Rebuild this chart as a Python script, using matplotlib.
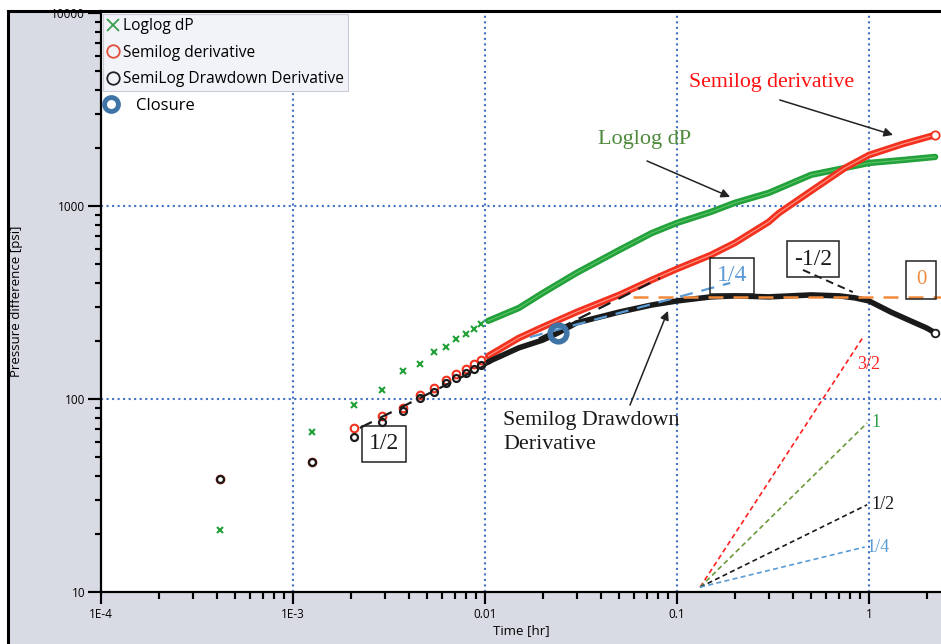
import matplotlib
matplotlib.use('Agg')
import matplotlib.pyplot as plt
import matplotlib.ticker as mticker
from matplotlib.lines import Line2D
from matplotlib.patches import Rectangle

# ---------------- data ----------------
loglog_t = [4.17e-4, 1.25e-3, 2.08e-3, 2.92e-3, 3.75e-3, 4.58e-3, 5.42e-3, 6.25e-3,
            7.08e-3, 7.92e-3, 8.75e-3, 9.58e-3, 0.0104, 0.015, 0.02, 0.03, 0.05,
            0.074, 0.1, 0.15, 0.2, 0.3, 0.5, 0.75, 1.0, 1.5, 2.21]
loglog_dp = [20.9, 67.5, 93, 111, 140, 152, 175, 186, 205, 217, 231, 245, 254,
             296, 354, 450, 591, 724, 817, 931, 1038, 1168, 1450, 1574, 1670, 1730, 1795]

semi_t = [4.17e-4, 1.25e-3, 2.08e-3, 2.92e-3, 3.75e-3, 4.58e-3, 5.42e-3, 6.25e-3,
          7.08e-3, 7.92e-3, 8.75e-3, 9.58e-3, 0.0104, 0.015, 0.02, 0.03, 0.05,
          0.074, 0.1, 0.15, 0.2, 0.3, 0.34, 0.5, 0.75, 1.0, 1.5, 2.21]
semi_dp = [38.5, 47.2, 70.8, 81.7, 89.8, 105, 114, 125, 135, 143, 152, 159, 167,
           207, 236, 282, 346, 414, 472, 557, 643, 826, 920, 1197, 1574, 1836, 2094, 2333]

dd_t = [4.17e-4, 1.25e-3, 2.08e-3, 2.92e-3, 3.75e-3, 4.58e-3, 5.42e-3, 6.25e-3,
        7.08e-3, 7.92e-3, 8.75e-3, 9.58e-3, 0.0104, 0.015, 0.02, 0.024, 0.03, 0.05,
        0.074, 0.1, 0.15, 0.2, 0.3, 0.5, 0.7, 0.845, 1.0, 1.3, 1.6, 2.0, 2.21]
dd_dp = [38.5, 47.2, 63.5, 76, 86.7, 101, 109, 121, 128, 136, 143, 150, 156,
         184, 202, 220, 248, 282, 307, 322, 338, 342, 338, 346, 342, 334, 322,
         282, 257, 233, 220]

dense_from = 0.0104          # beyond this time the samples overlap into a band

closure_t = [0.024]
closure_p = [220]

# straight-line guides over the data
half_t, half_p = [2.23e-3, 0.0815], [70.8, 423]
quarter_t, quarter_p = [0.0171, 0.189], [209, 399]
neg_half_t, neg_half_p = [0.453, 0.823], [466, 358]
zero_t, zero_p = [0.059, 2.37], [338, 338]

# slope fan (lower right)
fan_origin = (0.132, 10.6)
fan_ends_t = [0.931, 0.977, 0.977, 0.95]
fan_ends_p = [209, 75.1, 28.3, 17.1]
fan_labels = ['3/2', '1', '1/2', '1/4']

x_ticks = [1e-4, 1e-3, 1e-2, 1e-1, 1]
x_ticklabels = ['1E-4', '1E-3', '0.01', '0.1', '1']
y_ticks = [10, 100, 1000, 10000]
y_ticklabels = ['10', '100', '1000', '10000']
grid_x = [1e-3, 1e-2, 1e-1, 1]
grid_y = [100, 1000]
minor_subs = [2, 3, 4, 5, 6, 7, 8, 9]

# ---------------- styling ----------------
W, H = 941, 644
XMIN, XMAX = 1e-4, 2.371
YMIN, YMAX = 10, 10233
green = '#23a13a'
red = '#f2321f'
black = '#1a1a1a'
closure_c = '#3e74a6'
blue_c = '#5b9bd5'
orange_c = '#f28a3c'
grid_c = '#4472c4'
serif = 'Liberation Serif'
sans = 'Open Sans'

plt.rcParams.update({
    'font.family': [sans, 'DejaVu Sans'],
    'xtick.direction': 'out', 'ytick.direction': 'out',
    'xtick.major.size': 8.6, 'ytick.major.size': 9.4,
    'xtick.minor.size': 5, 'ytick.minor.size': 4.3,
    'xtick.major.width': 1.5, 'ytick.major.width': 1.5,
    'xtick.minor.width': 1.5, 'ytick.minor.width': 1.5,
    'xtick.color': 'black', 'ytick.color': 'black',
    'xtick.labelsize': 8.5, 'ytick.labelsize': 8.5,
    'xtick.major.pad': 3, 'ytick.major.pad': 2,
    'xtick.bottom': True, 'ytick.left': True,
    'xtick.top': False, 'ytick.right': False,
})

fig = plt.figure(figsize=(W / 100, H / 100), dpi=100)
fig.patch.set_facecolor('white')
frame = Rectangle((8 / W, -0.02), 1.0, 1 - 11 / H + 0.02, transform=fig.transFigure,
                  facecolor='#d9dbe4', edgecolor='black', lw=2.2, zorder=-5)
fig.patches.append(frame)

ax = fig.add_axes([101 / W, 52 / H, 840 / W, 581 / H])
ax.set_facecolor('white')
ax.set_xscale('log')
ax.set_yscale('log')
ax.set_xlim(XMIN, XMAX)
ax.set_ylim(YMIN, YMAX)

for g in grid_x:
    ax.axvline(g, color=grid_c, ls=':', lw=1.5, zorder=1)
for g in grid_y:
    ax.axhline(g, color=grid_c, ls=':', lw=1.5, zorder=1)

# --- series ---
def split(t, p):
    sp = [(a, b) for a, b in zip(t, p) if a < dense_from]
    dn = [(a, b) for a, b in zip(t, p) if a >= dense_from]
    return sp, dn

sp, dn = split(loglog_t, loglog_dp)
ax.plot([a for a, _ in sp], [b for _, b in sp], ls='none', marker='x', ms=5,
        mew=1.5, color=green, zorder=3)
ax.plot([a for a, _ in dn], [b for _, b in dn], ls='-', lw=4.6, color=green,
        solid_capstyle='round', zorder=3)
ax.plot([a for a, _ in dn], [b for _, b in dn], ls='-', lw=0.8, color='#5cc46a',
        zorder=3)

sp, dn = split(semi_t, semi_dp)
ax.plot([a for a, _ in sp], [b for _, b in sp], ls='none', marker='o', ms=5.5,
        mew=1.5, mfc='none', mec=red, zorder=4)
ax.plot([a for a, _ in dn], [b for _, b in dn], ls='-', lw=4.8, color=red,
        solid_capstyle='round', zorder=4)
ax.plot([a for a, _ in dn], [b for _, b in dn], ls='-', lw=0.8, color='#ff9a8a',
        zorder=4)
ax.plot([semi_t[-1]], [semi_dp[-1]], ls='none', marker='o', ms=6, mew=1.3,
        mfc='white', mec=red, zorder=4)

sp, dn = split(dd_t, dd_dp)
ax.plot([a for a, _ in sp], [b for _, b in sp], ls='none', marker='o', ms=5,
        mew=1.6, mfc='none', mec=black, zorder=5)
ax.plot([a for a, _ in dn], [b for _, b in dn], ls='-', lw=4.0, color=black,
        solid_capstyle='round', zorder=5)
ax.plot([dd_t[-1]], [dd_dp[-1]], ls='none', marker='o', ms=5.5, mew=1.3,
        mfc='white', mec=black, zorder=5)

# guides over the data
ax.plot(half_t, half_p, color=black, lw=1.6, dashes=(6, 4), zorder=6)
ax.plot(quarter_t, quarter_p, color=blue_c, lw=1.6, dashes=(6, 4), zorder=6)
ax.plot(neg_half_t, neg_half_p, color=black, lw=1.4, dashes=(4, 2.5), zorder=6)
ax.plot(zero_t, zero_p, color=orange_c, lw=1.8, dashes=(6, 4), zorder=6)

ax.plot(closure_t, closure_p, ls='none', marker='o', ms=12, mew=4,
        mfc='none', mec=closure_c, zorder=7)

# slope fan
fan_colors = ['#ff2020', '#6a9a3a', black, blue_c]
fan_label_colors = ['#ff2020', '#2ea04a', black, blue_c]
fan_label_offsets = [(-4, -20), (3, 0), (3, 0), (1, 0)]
for te, pe, col, lab, lc, off in zip(fan_ends_t, fan_ends_p, fan_colors, fan_labels,
                                      fan_label_colors, fan_label_offsets):
    ax.plot([fan_origin[0], te], [fan_origin[1], pe], color=col, lw=1.2,
            dashes=(3, 2), zorder=3)
    ax.annotate(lab, xy=(te, pe), xytext=off, textcoords='offset points',
                ha='left', va='center', color=lc, fontsize=13, family=serif)

# text labels with arrows
arrow_kw = dict(arrowstyle='-|>', color='#222222', lw=1.1, mutation_scale=13,
                shrinkA=0, shrinkB=0)
ax.text(0.309, 4385, 'Semilog derivative', color='#ff1010', fontsize=15.7,
        family=serif, ha='center', va='center')
ax.annotate('', xy=(1.334, 2333), xytext=(0.343, 3540), arrowprops=arrow_kw)

ax.text(0.068, 2198, 'Loglog dP', color='#4e8a3c', fontsize=16,
        family=serif, ha='center', va='center')
ax.annotate('', xy=(0.189, 1114), xytext=(0.0698, 1710), arrowprops=arrow_kw)

ax.text(0.0124, 66.7, 'Semilog Drawdown\nDerivative', color=black, fontsize=15.8,
        family=serif, ha='left', va='center', linespacing=1.35)
ax.annotate('', xy=(0.0897, 286), xytext=(0.0569, 93), arrowprops=arrow_kw)

box_kw = dict(boxstyle='square,pad=0.3', fc='none', ec='#222222', lw=1.1)
ax.text(2.98e-3, 58.5, '1/2', fontsize=17, family=serif, color=black,
        ha='center', va='center', bbox=box_kw, zorder=8)
ax.text(0.193, 434, '1/4', fontsize=17, family=serif, color=blue_c,
        ha='center', va='center', bbox=box_kw, zorder=8)
ax.text(0.511, 531, '-1/2', fontsize=17, family=serif, color=black,
        ha='center', va='center', bbox=box_kw, zorder=8)
ax.text(1.866, 414, '0', fontsize=15, family=serif, color=orange_c,
        ha='center', va='center',
        bbox=dict(boxstyle='square,pad=0.45', fc='none', ec='#222222', lw=1.1), zorder=8)

# axes styling
ax.spines['right'].set_visible(False)
for s in ['left', 'bottom']:
    ax.spines[s].set_linewidth(1.6)
    ax.spines[s].set_color('black')
ax.spines['top'].set_linewidth(2.2)

ax.xaxis.set_major_locator(mticker.FixedLocator(x_ticks))
ax.xaxis.set_major_formatter(mticker.FixedFormatter(x_ticklabels))
ax.yaxis.set_major_locator(mticker.FixedLocator(y_ticks))
ax.yaxis.set_major_formatter(mticker.FixedFormatter(y_ticklabels))
ax.xaxis.set_minor_locator(mticker.LogLocator(base=10, subs=range(2, 10), numticks=20))
ax.yaxis.set_minor_locator(mticker.LogLocator(base=10, subs=range(2, 10), numticks=20))
ax.xaxis.set_minor_formatter(mticker.NullFormatter())
ax.yaxis.set_minor_formatter(mticker.NullFormatter())

# explicit outward x tick marks
xtr = ax.get_xaxis_transform()
x_minor = [s * d for d in x_ticks for s in minor_subs if XMIN < s * d < XMAX]
y_minor = [s * d for d in y_ticks for s in minor_subs if YMIN < s * d < YMAX]
for v in x_ticks:
    ax.plot([v, v], [0, -12 / 581], transform=xtr, color='black', lw=1.5,
            clip_on=False, solid_capstyle='butt', zorder=10)
for v in x_minor:
    ax.plot([v, v], [0, -7 / 581], transform=xtr, color='black', lw=1.5,
            clip_on=False, solid_capstyle='butt', zorder=10)
ax.set_xlim(XMIN, XMAX)
ax.set_ylim(YMIN, YMAX)

# y tick marks: a thin strip axes in the left margin sharing the y scale
tax = fig.add_axes([88 / W, 52 / H, 13 / W, 581 / H], zorder=5)
tax.set_yscale('log')
tax.set_xlim(0, 1)
tax.set_ylim(YMIN, YMAX)
tax.patch.set_alpha(0)
tax.axis('off')
tax.hlines(y_ticks, 0, 1, colors='black', lw=1.5)
tax.hlines(y_minor, 0.54, 1, colors='black', lw=1.5)

ax.set_xlabel('Time [hr]', fontsize=9.5, labelpad=2)
ax.set_ylabel('Pressure difference [psi]', fontsize=9.5)
ax.yaxis.set_label_coords(-0.093, 0.5)

# legends
handles = [
    Line2D([], [], ls='none', marker='x', ms=9, mew=1.3, color='#3aa04a', label='Loglog dP'),
    Line2D([], [], ls='none', marker='o', ms=9, mew=1.3, mfc='none', mec='#e0503a',
           label='Semilog derivative'),
    Line2D([], [], ls='none', marker='o', ms=9, mew=1.3, mfc='none', mec='#222222',
           label='SemiLog Drawdown Derivative'),
]
leg1 = ax.legend(handles=handles, loc='upper left', bbox_to_anchor=(0.0, 0.997),
                 fontsize=11.2, frameon=True, fancybox=False, edgecolor='#c9cbd6',
                 facecolor='#f2f3f8', framealpha=1, borderpad=0.25, labelspacing=0.68,
                 handlelength=0.8, handletextpad=0.25, borderaxespad=0.1)
leg1.get_frame().set_linewidth(0.8)
ax.add_artist(leg1)
leg2 = ax.legend(handles=[Line2D([], [], ls='none', marker='o', ms=10, mew=3.5,
                                 mfc='none', mec=closure_c, label='Closure')],
                 loc='center left', bbox_to_anchor=(-0.004, 0.836), fontsize=12,
                 frameon=False, handlelength=0.8, handletextpad=1.1, borderaxespad=0)

fig.savefig('out.png', dpi=100, facecolor=fig.get_facecolor())
